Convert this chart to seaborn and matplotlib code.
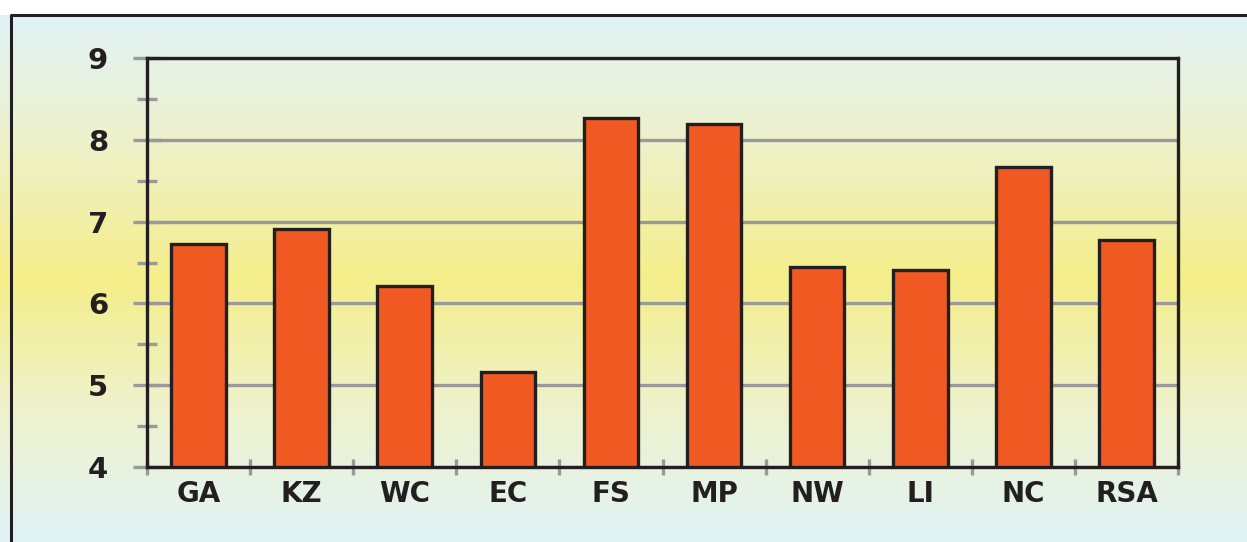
import numpy as np
import pandas as pd
import seaborn as sns
import matplotlib.pyplot as plt
from matplotlib.colors import LinearSegmentedColormap

regions = ["GA", "KZ", "WC", "EC", "FS", "MP", "NW", "LI", "NC", "RSA"]
values = [6.73, 6.91, 6.21, 5.16, 8.27, 8.19, 6.44, 6.41, 7.67, 6.78]

sns.set_theme(style="white")
plt.rcParams['font.family'] = ['DejaVu Sans']

fig = plt.figure(figsize=(12.47, 5.42), dpi=100)

# gradient background: light cyan -> yellow -> light cyan, white strip on top
frame_top = 1 - 15 / 542
bg = fig.add_axes([0, 0, 1, 1], zorder=-10)
grad = LinearSegmentedColormap.from_list(
    "bg", ["#e0f3f7", "#eef1c8", "#f5ee8a", "#eef2cc", "#e0f3f7"])
bg.imshow(np.linspace(0, 1, 256).reshape(-1, 1), aspect="auto", cmap=grad,
          extent=[0, 1, 0, frame_top], origin="upper")
bg.plot([11 / 1247, 11 / 1247, 1], [0, frame_top, frame_top],
        color="#231f20", lw=2.2, clip_on=False)
bg.set_xlim(0, 1)
bg.set_ylim(0, 1)
bg.axis("off")

ax = fig.add_axes([147 / 1247, 1 - 467 / 542, (1178 - 147) / 1247, (467 - 58) / 542])
ax.patch.set_alpha(0)

df = pd.DataFrame({"region": regions, "value": values})
sns.barplot(data=df, x="region", y="value", color="#f05a22", saturation=1,
            width=0.53, edgecolor="#231f20", linewidth=2.4, ax=ax, zorder=3)

ax.set_ylim(4, 9)
ax.set_xlim(-0.5, len(regions) - 0.5)
ax.set_yticks(range(4, 10))
ax.set_yticks(np.arange(4.5, 9, 1), minor=True)
ax.yaxis.grid(True, which="major", color="#98999b", lw=2.4, zorder=0)
ax.set_axisbelow(True)

for s in ax.spines.values():
    s.set_color("#231f20")
    s.set_linewidth(2.4)
    s.set_zorder(4)

ax.tick_params(axis="y", which="major", length=20, width=2.4, color="#98999b",
               direction="inout", pad=18, labelsize=21, left=True)
ax.tick_params(axis="y", which="minor", length=14, width=2.4, color="#98999b",
               direction="inout", left=True)
for lab in ax.get_yticklabels():
    lab.set_fontweight("bold")
    lab.set_color("#231f20")

ax.set_xticks(range(len(regions)))
ax.set_xticklabels(regions, fontsize=20, fontweight="bold", color="#231f20")
ax.tick_params(axis="x", which="major", length=0, pad=9)
ax.set_xticks(np.arange(-0.5, len(regions)), minor=True)
ax.tick_params(axis="x", which="minor", length=12, width=2.4, color="#98999b",
               direction="inout", bottom=True)
ax.set_xlabel("")
ax.set_ylabel("")

fig.savefig("out.png", dpi=100)
